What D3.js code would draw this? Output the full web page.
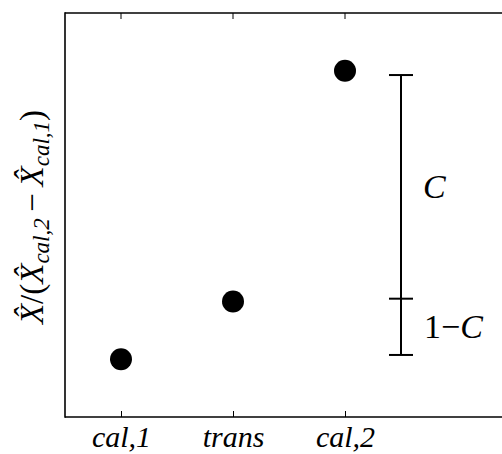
<!DOCTYPE html>
<html>
<head>
<meta charset="utf-8">
<title>Calibration chart</title>
<style>
  html, body { margin: 0; padding: 0; background: #fff; overflow: hidden; }
  svg { display: block; }
</style>
</head>
<body>
<script src="https://cdnjs.cloudflare.com/ajax/libs/d3/7.8.5/d3.min.js"></script>
<script>
// data
var categories = ["cal,1", "trans", "cal,2"];
var positions = [1, 2, 3];
var values = [0.0, 0.2, 1.0];
// bracket: bottom, split, top
var barX = 3.5;
var barLevels = [0.015, 0.21, 0.985];

var W = 502, H = 454;
var margin = {top: 13, left: 65};
var width = 448, height = 404;
var serif = "Liberation Serif";

var svg = d3.select("body").append("svg")
    .attr("width", W)
    .attr("height", H);

var g = svg.append("g")
    .attr("transform", "translate(" + margin.left + "," + margin.top + ")");

var x = d3.scaleLinear().domain([0.5, 4.5]).range([0, width]);
var y = d3.scaleLinear().domain([-0.2, 1.2]).range([height, 0]);

// frame: top, left, bottom; the right side is outside the picture
var frame = g.append("g")
    .attr("stroke", "#000")
    .attr("stroke-width", 1.6);
frame.append("line").attr("x1", 0).attr("x2", W).attr("y1", 0).attr("y2", 0);
frame.append("line").attr("x1", 0).attr("x2", W).attr("y1", height).attr("y2", height);
frame.append("line").attr("x1", 0).attr("x2", 0).attr("y1", -0.8).attr("y2", height + 0.8);

// bottom axis, ticks pointing in
var xAxis = d3.axisBottom(x)
    .tickValues(positions)
    .tickFormat(function(d, i) { return categories[i]; })
    .tickSizeInner(-6)
    .tickSizeOuter(0);

var ax = g.append("g")
    .attr("transform", "translate(0," + height + ")")
    .call(xAxis)
    .attr("font-family", serif)
    .attr("font-size", 30);
ax.select(".domain").remove();
ax.selectAll("text")
    .attr("y", 30)
    .attr("dy", 0)
    .attr("font-style", "italic");
ax.selectAll("line").attr("stroke-width", 1);

// top ticks
g.append("g")
  .selectAll("line")
  .data(positions)
  .enter().append("line")
    .attr("x1", function(d) { return x(d); })
    .attr("x2", function(d) { return x(d); })
    .attr("y1", 0)
    .attr("y2", 6)
    .attr("stroke", "#000")
    .attr("stroke-width", 1);

// points
g.selectAll(".dot")
    .data(values)
  .enter().append("circle")
    .attr("class", "dot")
    .attr("cx", function(d, i) { return x(positions[i]); })
    .attr("cy", function(d) { return y(d); })
    .attr("r", 11)
    .attr("fill", "#000");

// bracket
var bx = x(barX);
g.append("line")
    .attr("x1", bx).attr("x2", bx)
    .attr("y1", y(barLevels[0])).attr("y2", y(barLevels[2]))
    .attr("stroke", "#000").attr("stroke-width", 2);
g.selectAll(".cap")
    .data(barLevels)
  .enter().append("line")
    .attr("class", "cap")
    .attr("x1", bx - 12).attr("x2", bx + 12)
    .attr("y1", function(d) { return y(d); })
    .attr("y2", function(d) { return y(d); })
    .attr("stroke", "#000").attr("stroke-width", 2);

// bracket labels
var lowLab = g.append("text")
    .attr("x", bx + 23)
    .attr("y", y((barLevels[0] + barLevels[1]) / 2))
    .attr("dy", "0.33em")
    .attr("font-family", serif)
    .attr("font-size", 34);
lowLab.append("tspan").text("1\u2212");
lowLab.append("tspan").attr("font-style", "italic").text("C");

g.append("text")
    .attr("x", bx + 22)
    .attr("y", y((barLevels[1] + barLevels[2]) / 2))
    .attr("dy", "0.33em")
    .attr("font-family", serif)
    .attr("font-size", 34)
    .attr("font-style", "italic")
    .text("C");

// y label
var yl = svg.append("text")
    .attr("transform", "translate(43," + (margin.top + height / 2 + 2) + ") rotate(-90)")
    .attr("text-anchor", "middle")
    .attr("font-family", serif)
    .attr("font-size", 33);
yl.append("tspan").attr("font-style", "italic").text("X\u0302");
yl.append("tspan").text("/(");
yl.append("tspan").attr("font-style", "italic").text("X\u0302");
yl.append("tspan").attr("font-style", "italic").attr("font-size", 23).attr("dy", 6).text("cal,2");
yl.append("tspan").attr("dy", -6).text("\u2009\u2212\u2009");
yl.append("tspan").attr("font-style", "italic").text("X\u0302");
yl.append("tspan").attr("font-style", "italic").attr("font-size", 23).attr("dy", 6).text("cal,1");
yl.append("tspan").attr("dy", -6).text(")");
</script>
</body>
</html>
